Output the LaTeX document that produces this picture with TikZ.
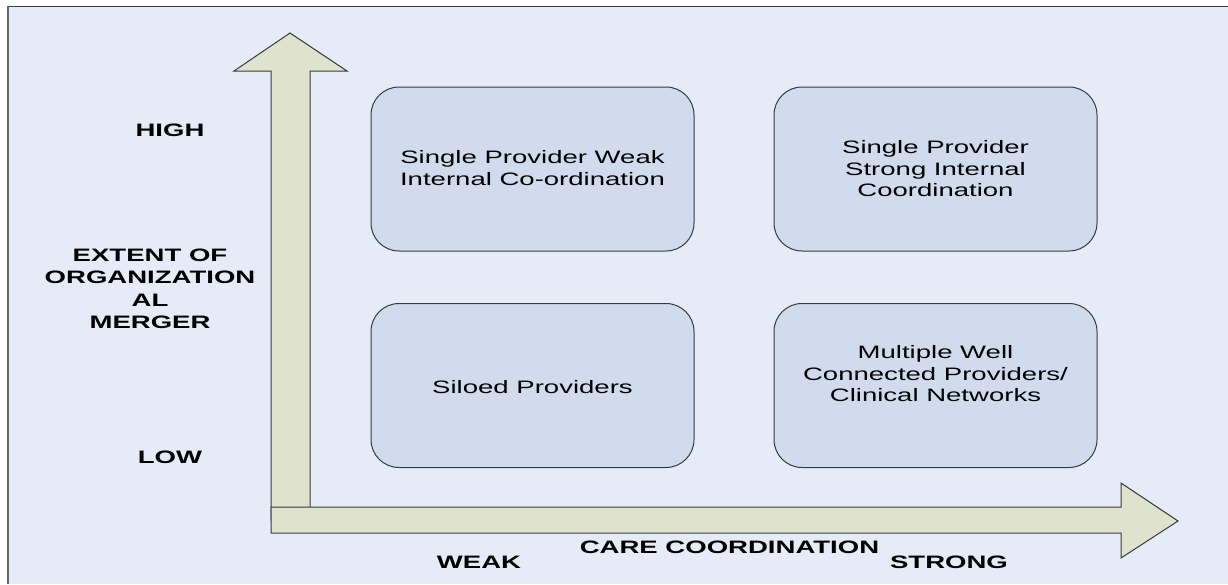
\documentclass[tikz,border=0pt]{standalone}
\usepackage{fontspec}
\newfontfamily\labfont[FakeStretch=1.53]{Liberation Sans}
\definecolor{bgblue}{HTML}{E6ECF7}
\definecolor{boxfill}{HTML}{D0DCEE}
\definecolor{arrowfill}{HTML}{DFE3CE}
\definecolor{edge}{HTML}{3A3A3A}
\tikzset{
  quad/.style={draw=edge, line width=1pt, fill=boxfill, rounded corners=28pt,
    minimum width=323pt, minimum height=164pt},
  quadtext/.style={font=\labfont\fontsize{18}{21.5}\selectfont, align=center, text=black, inner sep=0pt},
  axislabel/.style={font=\labfont\bfseries\fontsize{18}{22.5}\selectfont, align=center, text=black, inner sep=0pt},
  bigarrow/.style={draw=edge, line width=1pt, fill=arrowfill, line join=miter}
}
\begin{document}
\begin{tikzpicture}[x=1pt,y=-1pt]
\useasboundingbox (0,0) rectangle (1228,584);
\fill[white] (0,0) rectangle (1228,584);
\fill[bgblue] (8,6) rectangle (1228,584);
\draw[edge, line width=1pt] (8,6) -- (1228,6);
\draw[gray!80!black, line width=2pt] (8,6) -- (8,584);
% vertical arrow
\draw[bigarrow] (271,520) -- (271,71) -- (234,71) -- (290,33) -- (347,71) -- (310,71) -- (310,520) -- cycle;
% horizontal arrow
\draw[bigarrow] (271,507) -- (1121,507) -- (1121,483) -- (1178,521) -- (1121,558) -- (1121,533) -- (271,533) -- cycle;
% quadrant boxes
\node[quad] (tl) at (532.5,169) {};
\node[quad] (tr) at (935.5,169) {};
\node[quad] (bl) at (532.5,385.5) {};
\node[quad] (br) at (935.5,385.5) {};
\node[quadtext] (tlt) at (532.5,168) {Single Provider Weak\\Internal Co-ordination};
\node[quadtext] (trt) at (935.5,169) {Single Provider\\Strong Internal\\Coordination};
\node[quadtext] (blt) at (532.5,387) {Siloed Providers};
\node[quadtext] (brt) at (935.5,374) {Multiple Well\\Connected Providers/\\Clinical Networks};
% axis labels
\node[axislabel] (high) at (170,130) {HIGH};
\node[axislabel] (low) at (170,457) {LOW};
\node[axislabel] (ext) at (150,289) {EXTENT OF\\ORGANIZATION\\AL\\MERGER};
\node[axislabel] (weak) at (479,562) {WEAK};
\node[axislabel] (care) at (729.5,547) {CARE COORDINATION};
\node[axislabel] (strong) at (949,562) {STRONG};
\end{tikzpicture}
\end{document}
